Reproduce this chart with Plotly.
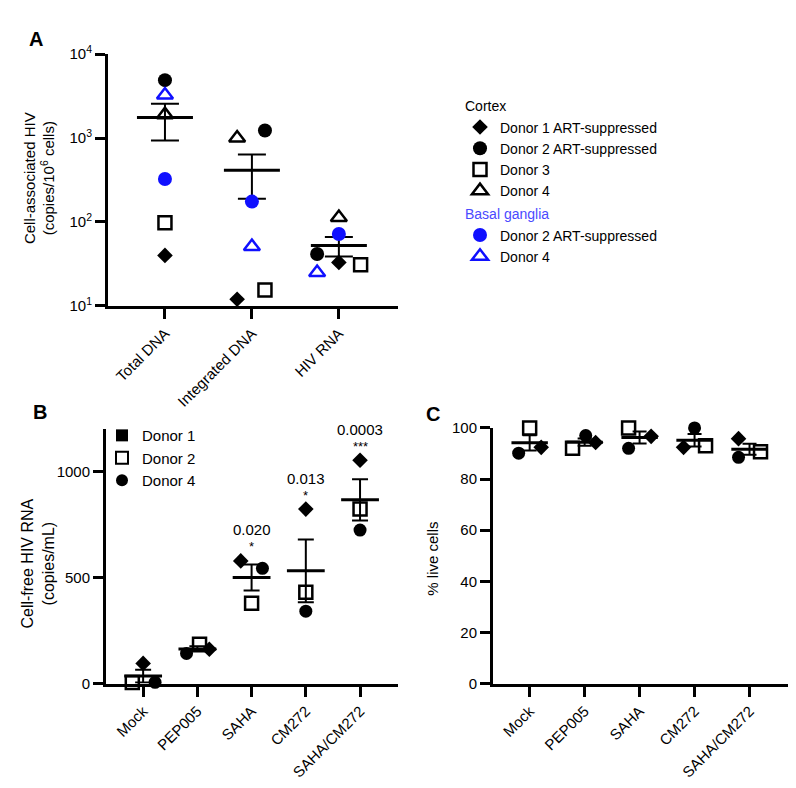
import numpy as np
import plotly.graph_objects as go

W, H = 796, 788
FONT = "Liberation Sans, Arial, sans-serif"
BLUE = "#1010ff"

# ---------------- Panel A data ----------------
a_categories = ["Total DNA", "Integrated DNA", "HIV RNA"]
a_cortex_donor1 = [40, 12, 33]
a_cortex_donor2 = [4900, 1230, 41.5]
a_cortex_donor3 = [98, 15.5, 31]
a_cortex_donor4 = [1900, 1000, 113]
a_basal_donor2 = [325, 175, 72]
a_basal_donor4 = [3250, 51, 25]

# ---------------- Panel B data ----------------
bc_categories = ["Mock", "PEP005", "SAHA", "CM272", "SAHA/CM272"]
b_donor1 = [95, 162, 578, 822, 1052]
b_donor2 = [5, 185, 379, 430, 822]
b_donor4 = [6, 142, 543, 341, 723]
b_pvalues = ["", "", "0.020", "0.013", "0.0003"]
b_stars = ["", "", "*", "*", "***"]

# ---------------- Panel C data ----------------
c_donor1 = [92.4, 94.3, 96.7, 92.4, 95.8]
c_donor2 = [100, 92, 100, 93, 90.7]
c_donor4 = [90.1, 97, 92, 100, 88.5]

# horizontal jitter (category units) – layout only
a_off = {
    "d1": [0, -0.17, 0], "d2": [0, 0.15, -0.25], "d3": [0, 0.15, 0.25],
    "d4": [0, -0.17, 0], "bd2": [0, 0, 0], "bd4": [0, 0, -0.25],
}
b_off = {"d1": [0, 0.22, -0.2, 0, 0], "d2": [-0.2, 0.04, 0, 0, 0], "d4": [0.22, -0.2, 0.2, 0, 0]}
c_off = {"d1": [0.21, 0.2, 0.21, -0.2, -0.2], "d2": [0, -0.22, -0.2, 0.2, 0.2], "d4": [-0.2, 0.02, -0.2, 0, -0.2]}


def px_x(a, b):
    return [a / W, b / W]


def px_y(top, bottom):
    return [1 - bottom / H, 1 - top / H]


fig = go.Figure()

ax_common = dict(showline=True, linecolor="black", linewidth=3, ticks="outside",
                 ticklen=10, tickwidth=3, tickcolor="black", showgrid=False,
                 zeroline=False, tickfont=dict(family=FONT, size=15, color="black"))


def pos(n, offs):
    return [i + o for i, o in zip(range(n), offs)]


def mean_sem(*series):
    arr = np.array(series, dtype=float)
    m = arr.mean(axis=0)
    s = arr.std(axis=0, ddof=1) / np.sqrt(arr.shape[0])
    return m, s


# ---------------- Panel A traces ----------------
nA = len(a_categories)
mA, sA = mean_sem(a_cortex_donor1, a_cortex_donor2, a_cortex_donor3,
                  a_cortex_donor4, a_basal_donor2, a_basal_donor4)
fig.add_trace(go.Scatter(
    x=list(range(nA)), y=mA, mode="markers", xaxis="x", yaxis="y", showlegend=False,
    marker=dict(symbol="line-ew", size=40, line=dict(width=3, color="black")),
    error_y=dict(type="data", array=sA, visible=True, thickness=2, width=14, color="black"),
    cliponaxis=False, hoverinfo="skip"))

a_series = [
    ("Donor 1 ART-suppressed", a_cortex_donor1, "d1", "diamond", "black", 12, "cortex", "Cortex"),
    ("Donor 2 ART-suppressed", a_cortex_donor2, "d2", "circle", "black", 14, "cortex", None),
    ("Donor 3", a_cortex_donor3, "d3", "square-open", "black", 13, "cortex", None),
    ("Donor 4", a_cortex_donor4, "d4", "triangle-up-open", "black", 14, "cortex", None),
    ("Donor 2 ART-suppressed", a_basal_donor2, "bd2", "circle", BLUE, 14, "basal", "Basal ganglia"),
    ("Donor 4", a_basal_donor4, "bd4", "triangle-up-open", BLUE, 14, "basal", None),
]
for name, vals, key, sym, col, size, grp, gtitle in a_series:
    open_ = sym.endswith("open")
    tr = go.Scatter(
        x=pos(nA, a_off[key]), y=vals, mode="markers", name=name, xaxis="x", yaxis="y",
        legend="legend", legendgroup=grp, cliponaxis=False, hoverinfo="skip",
        marker=dict(symbol=sym, size=size, color=col,
                    line=dict(width=2.5 if open_ else 0, color=col)))
    if gtitle:
        tr.legendgrouptitle = dict(text=gtitle, font=dict(family=FONT, size=14,
                                   color="black" if grp == "cortex" else "#4a4aff"))
    fig.add_trace(tr)

# ---------------- Panel B traces ----------------
nB = len(bc_categories)
mB, sB = mean_sem(b_donor1, b_donor2, b_donor4)
fig.add_trace(go.Scatter(
    x=list(range(nB)), y=mB, mode="markers", xaxis="x2", yaxis="y2", showlegend=False,
    marker=dict(symbol="line-ew", size=27, line=dict(width=3, color="black")),
    error_y=dict(type="data", array=sB, visible=True, thickness=2, width=8, color="black"),
    cliponaxis=False, hoverinfo="skip"))
for vals, key, sym, size in [(b_donor1, "d1", "diamond", 12), (b_donor2, "d2", "square-open", 13),
                             (b_donor4, "d4", "circle", 13)]:
    open_ = sym.endswith("open")
    fig.add_trace(go.Scatter(
        x=pos(nB, b_off[key]), y=vals, mode="markers", xaxis="x2", yaxis="y2", showlegend=False,
        cliponaxis=False, hoverinfo="skip",
        marker=dict(symbol=sym, size=size, color="black", line=dict(width=2.5 if open_ else 0, color="black"))))
# legend entries for panel B
for name, sym in [("Donor 1", "square"), ("Donor 2", "square-open"), ("Donor 4", "circle")]:
    fig.add_trace(go.Scatter(
        x=[None], y=[None], mode="markers", name=name, xaxis="x2", yaxis="y2", legend="legend2",
        marker=dict(symbol=sym, size=12, color="black", line=dict(width=2 if "open" in sym else 0, color="black"))))

# ---------------- Panel C traces ----------------
mC, sC = mean_sem(c_donor1, c_donor2, c_donor4)
fig.add_trace(go.Scatter(
    x=list(range(nB)), y=mC, mode="markers", xaxis="x3", yaxis="y3", showlegend=False,
    marker=dict(symbol="line-ew", size=26, line=dict(width=3, color="black")),
    error_y=dict(type="data", array=sC, visible=True, thickness=2, width=7, color="black"),
    cliponaxis=False, hoverinfo="skip"))
for vals, key, sym, size in [(c_donor1, "d1", "diamond", 12), (c_donor2, "d2", "square-open", 13),
                             (c_donor4, "d4", "circle", 13)]:
    open_ = sym.endswith("open")
    fig.add_trace(go.Scatter(
        x=pos(nB, c_off[key]), y=vals, mode="markers", xaxis="x3", yaxis="y3", showlegend=False,
        cliponaxis=False, hoverinfo="skip",
        marker=dict(symbol=sym, size=size, color="black", line=dict(width=2.5 if open_ else 0, color="black"))))

# ---------------- annotations ----------------
ann = []
for i, (p, s) in enumerate(zip(b_pvalues, b_stars)):
    if not p:
        continue
    top = max(b_donor1[i], b_donor2[i], b_donor4[i])
    ann.append(dict(x=i, y=top, xref="x2", yref="y2", text=p, showarrow=False, yshift=31,
                    font=dict(family=FONT, size=15, color="black")))
    ann.append(dict(x=i, y=top, xref="x2", yref="y2", text=s, showarrow=False, yshift=14,
                    font=dict(family=FONT, size=13, color="black")))


def pann(x, y, text, size=15, angle=0):
    return dict(x=x / W, y=1 - y / H, xref="paper", yref="paper", text=text, showarrow=False,
                xanchor="center", yanchor="middle", textangle=angle,
                font=dict(family=FONT, size=size, color="black"))


ann += [
    pann(28, 20, "<b>A</b>", 20),
    pann(32, 403, "<b>B</b>", 20),
    pann(425, 405, "<b>C</b>", 20),
    pann(31, 163, "Cell-associated HIV<br>(copies/10<sup>6</sup> cells)", 15, -90),
    pann(30, 558, "Cell-free HIV RNA<br>(copies/mL)", 16, -90),
    pann(425, 553, "% live cells", 15, -90),
]

fig.update_layout(
    width=W, height=H, margin=dict(l=0, r=0, t=0, b=0),
    paper_bgcolor="white", plot_bgcolor="white",
    font=dict(family=FONT, color="black"),
    annotations=ann,
    xaxis=dict(ax_common, domain=px_x(100, 390), range=[-0.655, 2.68], tickmode="array",
               tickvals=list(range(nA)), ticktext=a_categories, tickangle=-45, anchor="y"),
    yaxis=dict(ax_common, domain=px_y(36, 294), type="log", range=[1, 4], tickmode="array",
               tickvals=[10, 100, 1000, 10000],
               ticktext=["10<sup>1</sup>", "10<sup>2</sup>", "10<sup>3</sup>", "10<sup>4</sup>"],
               anchor="x"),
    xaxis2=dict(ax_common, domain=px_x(98, 390), range=[-0.685, 4.7], tickmode="array",
                tickvals=list(range(nB)), ticktext=bc_categories, tickangle=-45, anchor="y2"),
    yaxis2=dict(ax_common, domain=px_y(420, 681), range=[0, 1200], tickmode="array",
                tickvals=[0, 500, 1000], anchor="x2"),
    xaxis3=dict(ax_common, domain=px_x(485, 780), range=[-0.667, 4.7], tickmode="array",
                tickvals=list(range(nB)), ticktext=bc_categories, tickangle=-45, anchor="y3"),
    yaxis3=dict(ax_common, domain=px_y(419, 681), range=[0, 100], tickmode="array",
                tickvals=[0, 20, 40, 60, 80, 100], anchor="x3"),
    legend=dict(x=452 / W, y=1 - 73 / H, xanchor="left", yanchor="top",
                font=dict(family=FONT, size=14, color="black"), bgcolor="rgba(0,0,0,0)",
                tracegroupgap=2, itemwidth=30),
    legend2=dict(x=94 / W, y=1 - 410 / H, xanchor="left", yanchor="top",
                 font=dict(family=FONT, size=15, color="black"), bgcolor="rgba(0,0,0,0)",
                 itemwidth=30),
)

fig.write_html("out.html")
